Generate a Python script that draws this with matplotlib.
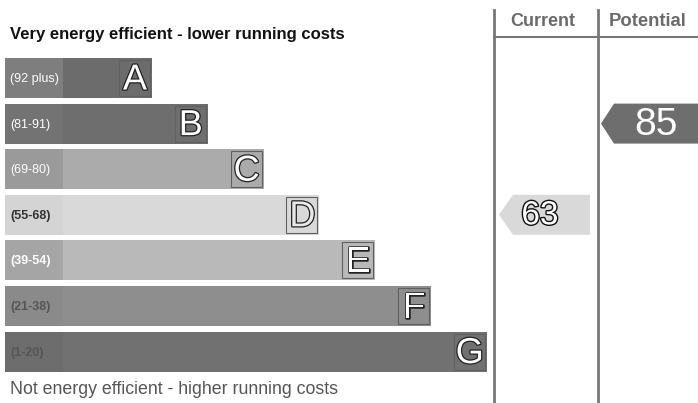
import matplotlib.pyplot as plt
from matplotlib.patches import Rectangle, Polygon
import matplotlib.patheffects as pe

plt.rcParams["font.family"] = ["Liberation Sans", "DejaVu Sans"]

# Bands, score ranges and ratings
bands = ["A", "B", "C", "D", "E", "F", "G"]
ranges = ["(92 plus)", "(81-91)", "(69-80)", "(55-68)", "(39-54)", "(21-38)", "(1-20)"]
band_low = [92, 81, 69, 55, 39, 21, 1]
current = 63
potential = 85

# greys of the scanned chart
bar_colors = ["#6c6c6c", "#6e6e6e", "#ababab", "#d9d9d9", "#b9b9b9", "#8e8e8e", "#717171"]
label_colors = ["#7e7e7e", "#737373", "#9a9a9a", "#d4d4d4", "#a5a5a5", "#8a8a8a", "#6d6d6d"]
text_colors = ["white", "white", "white", "#333333", "white", "#555555", "#555555"]
letter_fill = ["white", "white", "white", "#e8e8e8", "white", "white", "white"]


def band_row(score):
    for i, low in enumerate(band_low):
        if score >= low:
            return i
    return len(band_low) - 1


fig = plt.figure(figsize=(6.98, 4.03), dpi=100)
ax = fig.add_axes([0, 0, 1, 1])
ax.set_xlim(0, 698)
ax.set_ylim(403, 0)
ax.axis("off")

top0, step, h = 58, 45.6, 40
x0 = 5
for i, b in enumerate(bands):
    y = top0 + i * step
    right = 152 + 55.8 * i
    ax.barh(y + h / 2, right - x0, height=h, left=x0, color=bar_colors[i])
    ax.add_patch(Rectangle((x0, y), 58, h, color=label_colors[i], lw=0))
    ax.add_patch(Rectangle((right - 33, y + 2), 31, h - 4, fill=False,
                           ec="#606060", lw=0.8))
    ax.text(10, y + h / 2 + 1, ranges[i], fontsize=9, color=text_colors[i],
            va="center", ha="left", fontweight="bold" if i >= 3 else "normal")
    ax.text(right - 17, y + h / 2 + 2, b, fontsize=26, color=letter_fill[i],
            va="center", ha="center",
            path_effects=[pe.withStroke(linewidth=1.8, foreground="#222222")])

ax.text(10, 34, "Very energy efficient - lower running costs", fontsize=12,
        fontweight="bold", color="#111111", va="center")
ax.text(10, 390, "Not energy efficient - higher running costs", fontsize=12.8,
        color="#555555", va="center")

# right hand columns
for xl in (494, 598):
    ax.plot([xl, xl], [10, 403], color="#777777", lw=2)
ax.plot([494, 698], [37, 37], color="#777777", lw=1.5)
ax.text(543, 22, "Current", fontsize=13, fontweight="bold", color="#6a6a6a",
        ha="center", va="center")
ax.text(648, 22, "Potential", fontsize=13.3, fontweight="bold", color="#6a6a6a",
        ha="center", va="center")


def arrow(xtip, xbody, xend, xtext, score, fc, tc, outline, fs):
    r = band_row(score)
    yc = top0 + r * step + h / 2
    pts = [(xtip, yc), (xbody, yc - 20), (xend, yc - 20), (xend, yc + 20), (xbody, yc + 20)]
    ax.add_patch(Polygon(pts, closed=True, color=fc, lw=0))
    eff = [pe.withStroke(linewidth=2, foreground="#111111")] if outline else None
    ax.text(xtext, yc + 1, str(score), fontsize=fs, color=tc,
            ha="center", va="center", path_effects=eff)


arrow(499, 513, 590, 540, current, "#d9d9d9", "white", True, 24)
arrow(601, 614, 698, 656, potential, "#6e6e6e", "white", False, 28)

fig.savefig("out.png", dpi=100)
